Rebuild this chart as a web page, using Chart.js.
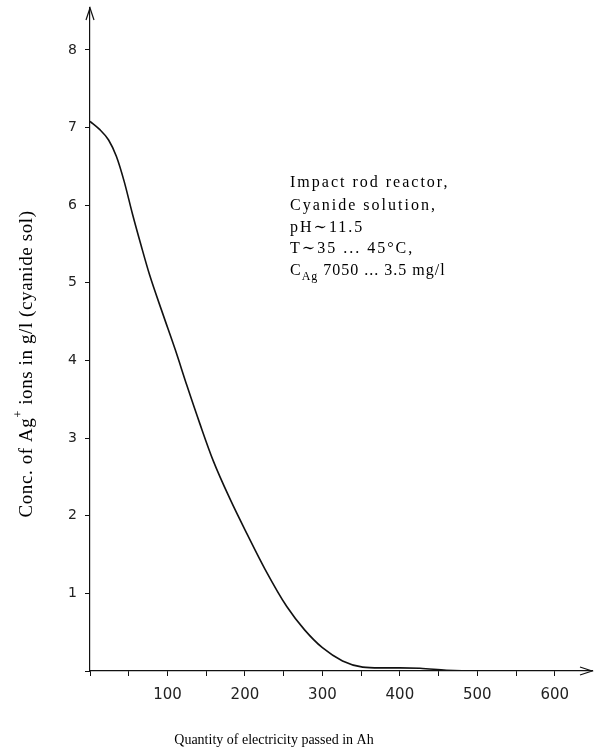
<!DOCTYPE html>
<html>
<head>
<meta charset="utf-8">
<script src="https://cdn.jsdelivr.net/npm/chart.js@4"></script>
<style>
  body { margin: 0; background: #fff; }
  #wrap { width: 600px; height: 751px; position: relative; }
</style>
</head>
<body>
<div id="wrap"><canvas id="silver"></canvas></div>
<script>
// values
const qtyAh = [0, 12, 24, 34, 44, 55, 66, 77, 94, 110, 125, 142, 159, 181, 203, 226, 254, 277, 300, 326, 352, 374, 400, 426, 460, 500, 560, 620];
const concGL = [7.08, 6.98, 6.84, 6.63, 6.31, 5.88, 5.48, 5.10, 4.60, 4.14, 3.68, 3.18, 2.71, 2.21, 1.76, 1.31, 0.83, 0.53, 0.30, 0.13, 0.05, 0.04, 0.04, 0.035, 0.01, 0, 0, 0];
const xTickLabels = [100, 200, 300, 400, 500, 600];
const yTickLabels = [1, 2, 3, 4, 5, 6, 7, 8];
const noteLines = ["Impact rod reactor,", "Cyanide solution,", "pH\u223C11.5", "T\u223C35 ... 45\u00B0C,"];

const ink = "#111";
const serif = "'Liberation Serif', 'DejaVu Serif', serif";

const ctx = document.getElementById("silver");

function drawSegs(c, segs, x, y) {
  // segs: [text, size, dy]
  let cx = x;
  segs.forEach(s => {
    c.font = s[1] + "px " + serif;
    c.fillText(s[0], cx, y + s[2]);
    cx += c.measureText(s[0]).width;
  });
}

const extras = {
  id: "extras",
  afterDraw(chart) {
    const c = chart.ctx;
    const a = chart.chartArea;
    const xs = chart.scales.x, ys = chart.scales.y;
    const ox = xs.getPixelForValue(0), oy = ys.getPixelForValue(0);
    c.save();
    c.strokeStyle = ink;
    c.fillStyle = ink;
    c.lineWidth = 1.2;
    // arrow heads
    c.beginPath();
    c.moveTo(ox - 4, a.top + 12); c.lineTo(ox, a.top); c.lineTo(ox + 4, a.top + 12);
    c.moveTo(a.right - 12, oy - 4); c.lineTo(a.right, oy); c.lineTo(a.right - 12, oy + 4);
    c.stroke();

    // annotation
    c.fillStyle = "#000";
    c.textBaseline = "middle";
    c.textAlign = "left";
    c.letterSpacing = "2px";
    const ny = [183, 206, 228, 249];
    noteLines.forEach((t, i) => {
      c.font = "16px " + serif;
      c.fillText(t, 290, ny[i]);
    });
    c.letterSpacing = "1px";
    drawSegs(c, [["C", 16, 0], ["Ag", 12, 6], [" 7050 ... 3.5 mg/l", 16, 0]], 290, 271);
    c.letterSpacing = "0px";

    // x title
    c.textAlign = "center";
    c.font = "14px " + serif;
    c.fillText("Quantity of electricity passed in Ah", 274, 740);

    // y title
    c.translate(27, 364);
    c.rotate(-Math.PI / 2);
    c.textAlign = "left";
    c.letterSpacing = "0.6px";
    let w = 0;
    const segs = [["Conc. of Ag", 19, 0], ["+", 12, -8], [" ions in g/l (cyanide sol)", 19, 0]];
    segs.forEach(s => { c.font = s[1] + "px " + serif; w += c.measureText(s[0]).width; });
    drawSegs(c, segs, -w / 2, 0);
    c.restore();
  }
};

new Chart(ctx, {
  type: "line",
  data: {
    datasets: [
      {
        label: "Ag+ concentration",
        data: qtyAh.map((q, i) => ({ x: q, y: concGL[i] })),
        borderColor: ink,
        borderWidth: 1.6,
        pointRadius: 0,
        fill: false,
        cubicInterpolationMode: "monotone",
      },
    ],
  },
  options: {
    animation: false,
    responsive: true,
    maintainAspectRatio: false,
    layout: { padding: { top: 8, right: 8, left: 0, bottom: 0 } },
    plugins: { legend: { display: false }, tooltip: { enabled: false } },
    scales: {
      x: {
        type: "linear",
        min: 0,
        max: 648,
        afterBuildTicks: (s) => {
          const t = [];
          for (let v = 0; v <= 600; v += 50) t.push({ value: v });
          s.ticks = t;
        },
        afterFit: (s) => { s.height = 80; s.paddingLeft = 0; s.paddingRight = 0; },
        ticks: {
          autoSkip: false,
          maxRotation: 0,
          padding: 10,
          color: "#222",
          font: { family: "'DejaVu Sans', sans-serif", size: 15 },
          callback: (v) => (xTickLabels.includes(v) ? String(v) : ""),
        },
        grid: { drawOnChartArea: false, drawTicks: true, tickLength: 5, color: ink, lineWidth: 1 },
        border: { color: ink, width: 1.2 },
      },
      y: {
        min: 0,
        max: 8.54,
        afterBuildTicks: (s) => {
          const t = [];
          for (let v = 0; v <= 8; v++) t.push({ value: v });
          s.ticks = t;
        },
        afterFit: (s) => { s.width = 90; s.paddingTop = 0; s.paddingBottom = 0; },
        ticks: {
          autoSkip: false,
          padding: 8,
          color: "#222",
          font: { family: "'DejaVu Sans', sans-serif", size: 14 },
          callback: (v) => (yTickLabels.includes(v) ? String(v) : ""),
        },
        grid: { drawOnChartArea: false, drawTicks: true, tickLength: 5, color: ink, lineWidth: 1 },
        border: { color: ink, width: 1.2 },
      },
    },
  },
  plugins: [extras],
});
</script>
</body>
</html>
